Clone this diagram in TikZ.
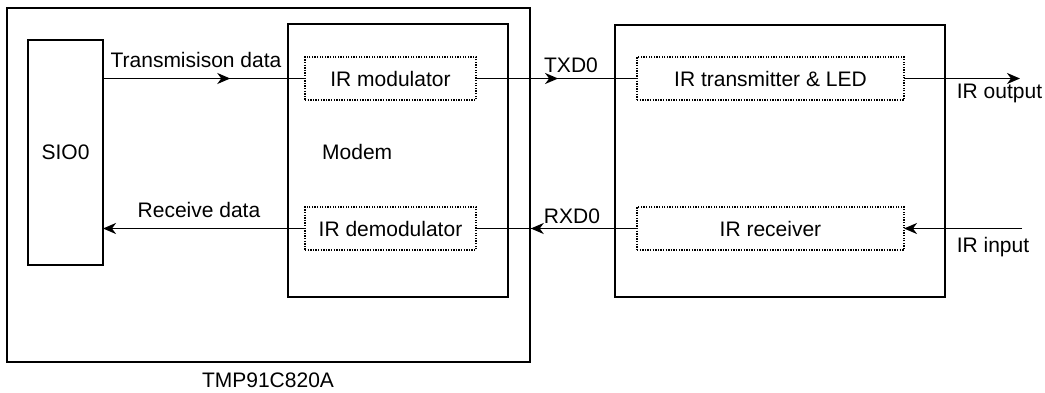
\documentclass[tikz,border=0pt]{standalone}
\usepackage{fontspec}
\setmainfont{Liberation Sans}
\usetikzlibrary{arrows.meta,decorations.markings}
\tikzset{
  tip/.tip={Stealth[length=13pt,width=11pt,inset=4pt]},
  box/.style={draw, rectangle, inner sep=0pt, outer sep=0pt},
  dotbox/.style={draw, rectangle, inner sep=0pt, outer sep=0pt, line width=1.6pt,
    dash pattern=on 1.3pt off 1.3pt, minimum width=#1, minimum height=43pt},
  conn/.style={line width=1.6pt},
  midtip/.style={conn, postaction={decorate}, decoration={markings,
    mark=at position #1 with {\arrow[line width=1.6pt]{tip}}}},
  lbl/.style={inner sep=0pt, anchor=base}
}
\begin{document}
\begin{tikzpicture}[x=1pt,y=-1pt,font=\fontsize{21}{25}\selectfont]
\useasboundingbox (0,0) rectangle (1045,392);
% main boxes
\node[box, line width=1.8pt, minimum width=523pt, minimum height=354pt] (chip) at (268.5,185) {};
\node[box, line width=2.6pt, minimum width=220pt, minimum height=273pt] (modem) at (398,160.5) {};
\node[box, line width=1.8pt, minimum width=330pt, minimum height=272pt] (ext) at (780,161) {};
\node[box, line width=2pt, minimum width=75pt, minimum height=225pt] (sio) at (65.5,152.5) {SIO0};
% dotted sub-blocks
\node[dotbox=171pt] (mod) at (390.5,78.5) {IR modulator};
\node[dotbox=171pt] (demod) at (390.5,228.5) {IR demodulator};
\node[dotbox=267pt] (tx) at (770.5,78.5) {IR transmitter \& LED};
\node[dotbox=267pt] (rx) at (770.5,228.5) {IR receiver};
% free ends
\coordinate (irout) at (1020,78.5);
\coordinate (irin) at (1022,228.5);
% connectors
\draw[midtip=0.63] (mod.west -| sio.east) -- (mod.west);
\draw[conn,-{tip}] (demod.west) -- (demod.west -| sio.east);
\draw[midtip=0.51] (mod.east) -- (tx.west);
\draw[midtip=0.66] (rx.west) -- (demod.east);
\draw[conn,-{tip}] (tx.east) -- (irout);
\draw[conn,-{tip}] (irin) -- (rx.east);
% labels
\node[lbl] (ltx) at (196,67) {Transmisison data};
\node[lbl] (lrx) at (199,217) {Receive data};
\node[lbl] (ltxd) at (571,72) {TXD0};
\node[lbl] (lrxd) at (572,223) {RXD0};
\node[lbl] (lout) at (999.5,98) {IR output};
\node[lbl] (lin) at (993,252) {IR input};
\node[lbl, anchor=base west] (lmodem) at (322,159.5) {Modem};
\node[lbl] (lchip) at (268,387) {TMP91C820A};
\end{tikzpicture}
\end{document}
